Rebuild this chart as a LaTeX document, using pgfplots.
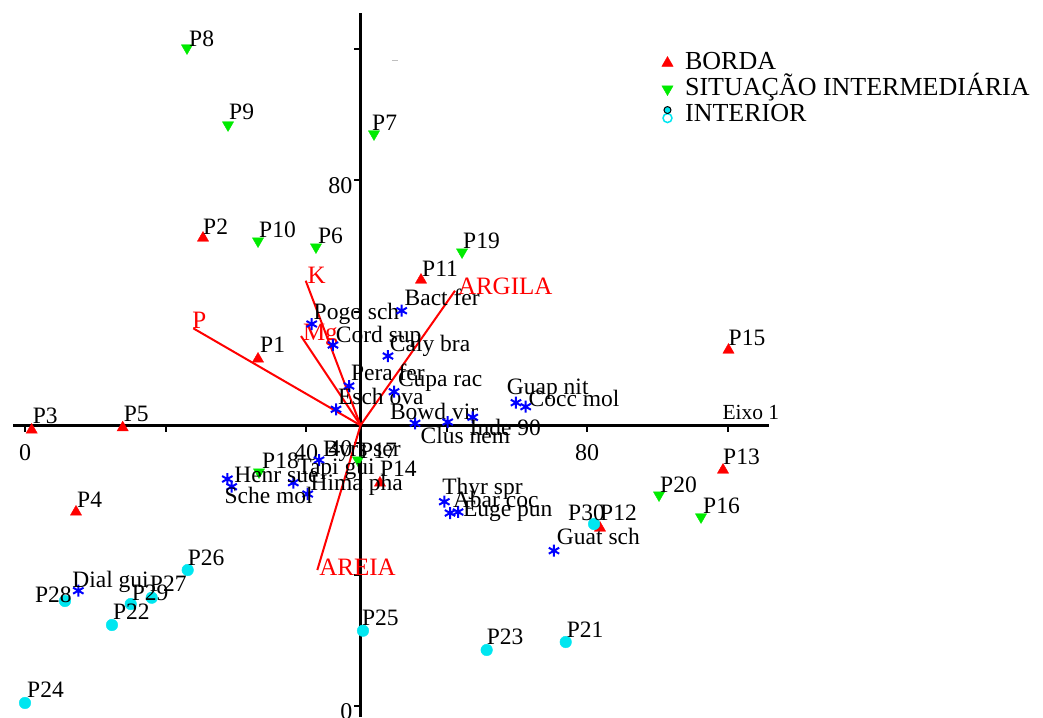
\documentclass[border=0pt]{standalone}
\usepackage{fontspec}
\setmainfont{Liberation Serif}
\usepackage{pgfplots}
\usepackage{pgfplotstable}
\pgfplotsset{compat=1.18}

\definecolor{cBorda}{RGB}{255,0,0}
\definecolor{cMeio}{RGB}{0,235,0}
\definecolor{cInt}{RGB}{0,230,240}
\definecolor{cSp}{RGB}{0,0,255}

% site scores (Eixo 1, Eixo 2) and label offsets
\pgfplotstableread[col sep=comma]{
x,y,dx,dy,lab
0.95,41.98,1,6,P3
13.91,42.33,1,6,P5
7.26,29.51,1,4,P4
25.34,71.18,0,4,P2
33.17,52.78,2,6,P1
56.37,64.79,1,4,P11
100.14,54.14,0,5,P15
99.36,35.89,0,6,P13
81.85,27.07,0,8,P12
50.53,33.92,0,6,P14
}\borda

\pgfplotstableread[col sep=comma]{
x,y,dx,dy,lab
23.06,100.08,2,1,P8
28.90,88.37,1,5,P9
49.68,87.00,-2,3,P7
33.17,70.72,1,4,P10
41.42,69.81,2,4,P6
62.21,69.05,1,4,P19
47.40,37.41,2,2,P17
33.31,35.59,3,4,P18
90.25,32.09,1,3,P20
96.23,28.75,2,3,P16
}\meio

\pgfplotstableread[col sep=comma]{
x,y,dx,dy,lab
81.00,27.68,-26,4,P30
23.16,20.68,0,5,P26
18.04,16.47,-2,6,P27
15.05,15.51,1,4,P29
5.69,15.97,-30,-1,P28
12.38,12.32,1,5,P22
0.00,0.46,2,5,P24
48.11,11.45,-1,5,P25
65.72,8.52,0,5,P23
76.97,9.73,1,5,P21
}\interior

% species scores
\pgfplotstableread[col sep=comma]{
x,y,dx,dy,lab
40.81,58.10,1,4,Pogo sch
43.84,54.90,2,3,Cord sup
53.62,60.12,2,5,Bact fer
51.67,53.23,1,5,Caly bra
46.12,48.67,1,6,Pera fer
44.27,45.13,1,5,Esch ova
52.53,47.80,3,5,Cupa rac
55.52,43.00,-26,4,Bowd vir
60.17,43.19,-28,-21,Clus nem
63.73,43.91,-4,-18,Inde 90
69.89,46.13,-10,8,Guap nit
71.27,45.52,2,0,Cocc mol
41.85,37.41,3,4,Byrs ser
38.19,33.96,3,8,Tapi gui
40.24,32.24,2,4,Hima pha
28.80,34.52,6,-3,Henr sue
29.42,33.35,-8,-17,Sche mol
59.69,31.07,-3,7,Thyr spr
61.64,29.51,-6,4,Abar coc
60.50,29.35,12,-3,Euge pun
75.30,23.62,2,6,Guat sch
7.59,17.54,-7,3,Dial gui
}\especies

\pgfplotsset{
  rotulo/.style={
    point meta=explicit symbolic,
    nodes near coords,
    visualization depends on={\thisrow{dx}\as\dx},
    visualization depends on={\thisrow{dy}\as\dy},
    every node near coord/.append style={anchor=base west, xshift=\dx pt,
      yshift=\dy pt, text=black, inner sep=0pt,
      font=\fontsize{23.5}{26}\selectfont},
  },
  seta/.style={red, line width=2pt, forget plot},
}
\tikzset{
  rseta/.style={pos=1, anchor=base west, inner sep=0pt, text=red,
    font=\fontsize{25}{28}\selectfont},
}

\begin{document}
\begin{tikzpicture}
\begin{axis}[
  scale only axis, width=1043pt, height=717pt,
  xmin=-3.559, xmax=144.91, ymin=-1.673, ymax=107.38,
  hide axis, clip=false,
  legend style={at={(axis cs:90.2,100.1)}, anchor=north west, draw=none,
    fill=none, font=\fontsize{26}{26}\selectfont, row sep=0pt,
    nodes={inner sep=1pt, text height=18pt, text depth=6pt},
    /tikz/every odd column/.append style={column sep=11pt}},
  legend cell align=left,
]
% eixos
\draw[line width=3pt] (axis cs:-1.708,42.69) -- (axis cs:105.9,42.69);
\draw[line width=3pt] (axis cs:47.76,-1.673) -- (axis cs:47.76,105.4);
\pgfplotsinvokeforeach{0,20,...,100}{
  \draw[line width=2pt] (axis cs:#1,42.69) -- ++(0pt,-7pt);
  \draw[line width=2pt] (axis cs:47.76,#1) -- ++(-7pt,0pt);
}
\pgfplotsinvokeforeach{0,40,80}{
  \node[anchor=base, inner sep=0pt, font=\fontsize{24}{26}\selectfont]
    at (axis cs:#1,42.69) [yshift=-35pt] {#1};
  \node[anchor=north east, inner sep=0pt, font=\fontsize{24}{26}\selectfont]
    at (axis cs:47.76,#1) [xshift=-8pt, yshift=3pt] {#1};
}
\node[anchor=base west, inner sep=0pt, font=\fontsize{21.5}{24}\selectfont]
  at (axis cs:99.26,42.69) [yshift=6pt] {Eixo 1};
\draw[gray!50, line width=1pt] (axis cs:52.24,98.25) -- (axis cs:53.10,98.25);

\addplot[only marks, mark=triangle*, mark size=6.5pt, color=cBorda, rotulo]
  table[x=x, y=y, meta=lab] {\borda};
\addlegendentry{BORDA}
\addplot[only marks, mark=triangle*, mark size=6.5pt, color=cMeio,
  mark options={rotate=180}, rotulo]
  table[x=x, y=y, meta=lab] {\meio};
\addlegendentry{SITUAÇÃO INTERMEDIÁRIA}
\addplot[only marks, mark=*, mark size=5.8pt, color=cInt, rotulo,
  legend image code/.code={
    \draw[cInt, line width=1.5pt, fill=white] (0.3cm,-3pt) circle (4.5pt);
    \draw[black, line width=1pt, fill=cInt] (0.3cm,5pt) circle (3.5pt);}]
  table[x=x, y=y, meta=lab] {\interior};
\addlegendentry{INTERIOR}

\addplot[only marks, mark=asterisk, mark size=6pt, color=cSp,
  line width=2pt, rotulo, forget plot]
  table[x=x, y=y, meta=lab] {\especies};

% variaveis ambientais
\addplot[seta] coordinates {(47.76,42.69) (23.96,57.44)} node[rseta, xshift=-2pt] {P};
\addplot[seta] coordinates {(47.76,42.69) (39.96,64.68)} node[rseta, xshift=1pt, yshift=-3pt] {K};
\addplot[seta] coordinates {(47.76,42.69) (39.29,56.27)} node[rseta, xshift=1pt, yshift=-4pt] {Mg};
\addplot[seta] coordinates {(47.76,42.69) (61.21,63.16)} node[rseta, xshift=2pt, yshift=-4pt] {ARGILA};
\addplot[seta] coordinates {(47.76,42.69) (41.61,20.68)} node[rseta, xshift=1pt, yshift=-5pt] {AREIA};

\coordinate (bl) at (rel axis cs:0,0);
\coordinate (tr) at (rel axis cs:1,1);
\end{axis}
\pgfresetboundingbox
\path[use as bounding box] (bl) rectangle (tr);
\end{tikzpicture}
\end{document}
